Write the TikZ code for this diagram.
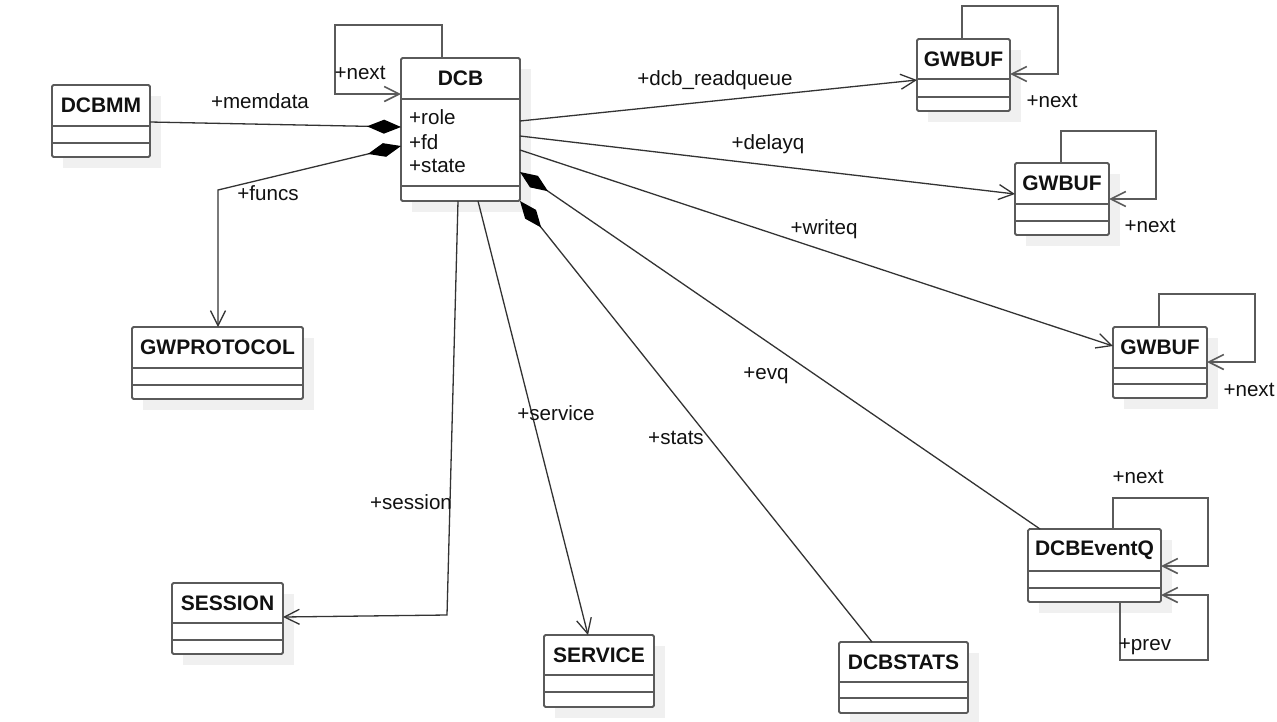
\documentclass[tikz,border=0pt]{standalone}
\usepackage{fontspec}
\setmainfont{Liberation Sans}
\usetikzlibrary{arrows.meta}
\definecolor{boxc}{HTML}{5A5A5A}
\definecolor{linec}{HTML}{333333}
\definecolor{shadowc}{HTML}{F0F0F0}
\definecolor{txtc}{HTML}{111111}
\tikzset{
  cls/.style={draw=boxc, fill=white, line width=1.8pt, rounded corners=1.5pt, inner sep=0pt, outer sep=0pt},
  clsline/.style={draw=boxc, line width=1.8pt},
  clstitle/.style={font=\fontsize{21}{25}\selectfont\bfseries, text=txtc, inner sep=0pt},
  lbl/.style={font=\fontsize{20.6}{24}\selectfont, text=txtc, inner sep=0pt},
  assoc/.style={draw=linec, line width=1.3pt, -{Straight Barb[length=15pt,width=15pt]}},
  comp/.style={draw=linec, line width=1.3pt, {Diamond[length=34pt,width=14pt,color=black]}-},
  compnav/.style={draw=linec, line width=1.3pt, {Diamond[length=34pt,width=14pt,color=black]}-{Straight Barb[length=15pt,width=15pt]}},
  selfloop/.style={draw=boxc, line width=1.6pt, -{Straight Barb[length=15pt,width=15pt]}},
}
% #1 id, #2 title, #3 x1, #4 y1, #5 x2, #6 y2, #7 header line, #8 second line
\newcommand\umlclass[8]{%
  \fill[shadowc] ({#3+11},{#4+11}) rectangle ({#5+11},{#6+11});
  \node[cls, minimum width={(#5-#3)*1pt}, minimum height={(#6-#4)*1pt}, anchor=north west] (#1) at (#3,#4) {};
  \node[clstitle] (#1-title) at ({(#3+#5)/2},{(#4+#7)/2}) {#2};
  \draw[clsline] (#3,#7) -- (#5,#7);
  \draw[clsline] (#3,#8) -- (#5,#8);
}
\begin{document}
\begin{tikzpicture}[x=1pt,y=-1pt]
\useasboundingbox (0,0) rectangle (1277,721);

% classes
\umlclass{DCBMM}{DCBMM}{52}{85}{150}{157}{126}{143}
\umlclass{DCB}{DCB}{401}{58}{520}{201}{99}{186}
\umlclass{GWP}{GWPROTOCOL}{132}{327}{303}{399}{368}{385}
\umlclass{SES}{SESSION}{172}{583}{283}{654}{623}{640}
\umlclass{SER}{SERVICE}{544}{635}{654}{707}{675}{692}
\umlclass{STATS}{DCBSTATS}{839}{642}{968}{713}{682}{698}
\umlclass{EQ}{DCBEventQ}{1028}{529}{1161}{602}{571}{588}
\umlclass{GB1}{GWBUF}{917}{39}{1010}{111}{79}{97}
\umlclass{GB2}{GWBUF}{1015}{163}{1109}{235}{204}{221}
\umlclass{GB3}{GWBUF}{1113}{327}{1207}{398}{368}{384}

% DCB attributes
\node[lbl, anchor=west] (a-role) at (409,117) {+role};
\node[lbl, anchor=west] (a-fd) at (409,142) {+fd};
\node[lbl, anchor=west] (a-state) at (409,166) {+state};

% self loops
\draw[selfloop] (DCB.north -| 442,0) |- (335,25) |- (DCB.west |- 0,94);
\draw[selfloop] (GB1.north -| 962,0) |- (1058,6) |- (GB1.east |- 0,74);
\draw[selfloop] (GB2.north -| 1061,0) |- (1156,131) |- (GB2.east |- 0,199);
\draw[selfloop] (GB3.north -| 1159,0) |- (1255,294) |- (GB3.east |- 0,362);
\draw[selfloop] (EQ.north -| 1113,0) |- (1208,498) |- (EQ.east |- 0,566);
\draw[selfloop] (EQ.south -| 1120,0) |- (1208,660) |- (EQ.east |- 0,595);

% associations
\draw[comp] (DCB.west |- 0,127) -- (DCBMM.east |- 0,122);
\draw[compnav] (DCB.west |- 0,146) -- (218,190) -- (GWP.north -| 218,0);
\draw[assoc] (DCB.south -| 458,0) -- (447,615) -- (SES.east |- 0,617);
\draw[assoc] (DCB.south -| 478,0) -- (SER.north -| 588,0);
\draw[comp] (DCB.south east) -- (STATS.north -| 872,0);
\draw[comp] (DCB.east |- 0,172) -- (EQ.north -| 1040,0);
\draw[assoc] (DCB.east |- 0,121) -- (GB1.west |- 0,80);
\draw[assoc] (DCB.east |- 0,136) -- (GB2.west |- 0,194);
\draw[assoc] (DCB.east |- 0,150) -- (GB3.west |- 0,346);

% labels
\node[lbl] (l-next0) at (360,73) {+next};
\node[lbl] (l-memdata) at (260,101) {+memdata};
\node[lbl] (l-funcs) at (268,193) {+funcs};
\node[lbl] (l-session) at (411,502) {+session};
\node[lbl] (l-service) at (556,413) {+service};
\node[lbl] (l-stats) at (676,438) {+stats};
\node[lbl] (l-evq) at (766,376) {+evq};
\node[lbl] (l-readq) at (715,80) {+dcb\_readqueue};
\node[lbl] (l-delayq) at (768,144) {+delayq};
\node[lbl] (l-writeq) at (824,229) {+writeq};
\node[lbl] (l-next1) at (1052,101) {+next};
\node[lbl] (l-next2) at (1150,226) {+next};
\node[lbl] (l-next3) at (1249,390) {+next};
\node[lbl] (l-next4) at (1138,477) {+next};
\node[lbl] (l-prev) at (1145,647) {+prev};
\end{tikzpicture}
\end{document}
